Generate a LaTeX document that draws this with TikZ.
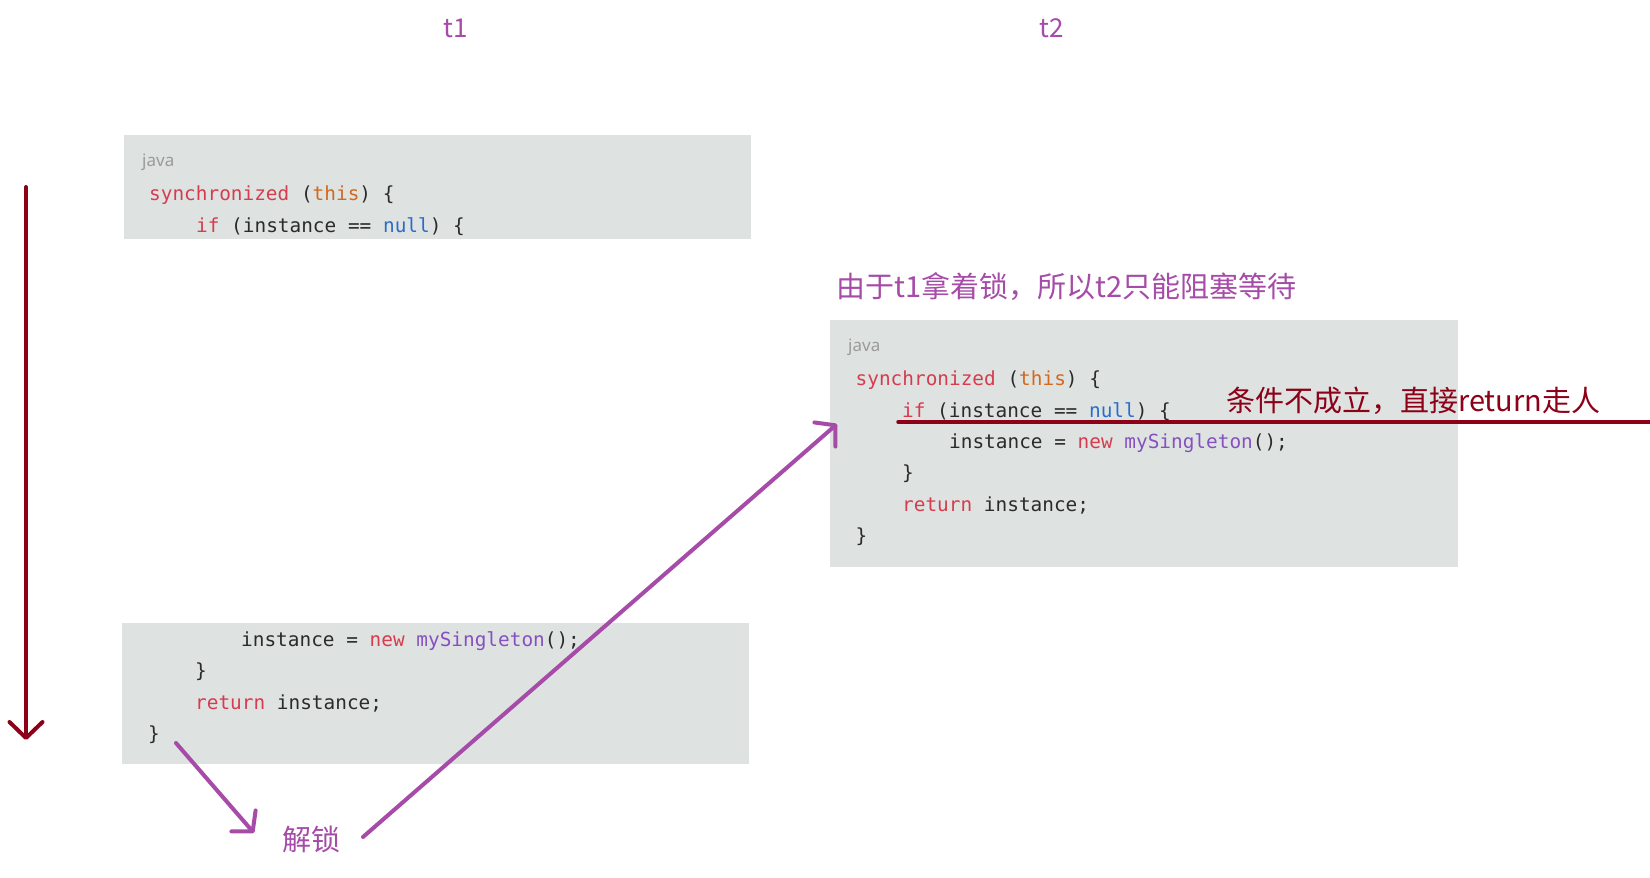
\documentclass[tikz,border=0pt]{standalone}
\usepackage{fontspec}
\setmonofont{DejaVu Sans Mono}
\newfontfamily\cjk{Noto Sans CJK SC}
\newfontfamily\labelfont{Noto Sans}
\usetikzlibrary{arrows.meta}
\definecolor{boxbg}{HTML}{DEE3E2}
\definecolor{kwred}{HTML}{D63C4E}
\definecolor{kworange}{HTML}{D2691E}
\definecolor{kwblue}{HTML}{2A6CCB}
\definecolor{fnpurple}{HTML}{8650C0}
\definecolor{codetext}{HTML}{2B2B2B}
\definecolor{lblgray}{HTML}{9A9A9A}
\definecolor{annpurple}{HTML}{A64BA8}
\definecolor{darkred}{HTML}{8C0018}
\newcommand{\kwd}[1]{\textcolor{kwred}{#1}}
\newcommand{\kwthis}[1]{\textcolor{kworange}{#1}}
\newcommand{\kwnull}[1]{\textcolor{kwblue}{#1}}
\newcommand{\kwfn}[1]{\textcolor{fnpurple}{#1}}
\tikzset{
  codebox/.style={fill=boxbg, draw=none, inner sep=0pt, anchor=north west},
  codeline/.style={anchor=base west, inner sep=0pt, font=\ttfamily\fontsize{19.4}{23}\selectfont, text=codetext},
  langlabel/.style={anchor=base west, inner sep=0pt, font=\labelfont\fontsize{17}{20}\selectfont, text=lblgray},
  anntext/.style={inner sep=0pt, font=\cjk\fontsize{29}{33}\selectfont},
  threadlabel/.style={inner sep=0pt, font=\cjk\fontsize{26}{30}\selectfont, text=annpurple},
  purplearrow/.style={draw=annpurple, line width=4pt, line cap=round, line join=round, -{Straight Barb[length=14pt,width=32pt,line cap=round,line join=round]}},
  redarrow/.style={draw=darkred, line width=4pt, line cap=round, line join=round, -{Straight Barb[length=16pt,width=33pt,line cap=round,line join=round]}},
  strike/.style={draw=darkred, line width=3.5pt, line cap=round}
}
\begin{document}
\begin{tikzpicture}[x=1pt,y=-1pt]
\useasboundingbox (0,0) rectangle (1650,878);
\fill[white] (0,0) rectangle (1650,878);

% thread labels
\node[threadlabel] (t1) at (456,28) {t1};
\node[threadlabel] (t2) at (1052,28) {t2};

% box 1
\node[codebox, minimum width=627pt, minimum height=104pt] (b1) at (124,135) {};
\node[langlabel] (b1j) at (142,166) {java};
\node[codeline] (b1l1) at (149,200) {\kwd{synchronized} (\kwthis{this}) \{};
\node[codeline] (b1l2) at (196,232) {\kwd{if} (instance == \kwnull{null}) \{};

% box 2
\node[codebox, minimum width=628pt, minimum height=247pt] (b2) at (830,320) {};
\node[langlabel] (b2j) at (848,351) {java};
\node[codeline] (b2l1) at (855.5,385) {\kwd{synchronized} (\kwthis{this}) \{};
\node[codeline] (b2l2) at (902,417) {\kwd{if} (instance == \kwnull{null}) \{};
\node[codeline] (b2l3) at (949,448) {instance = \kwd{new} \kwfn{mySingleton}();};
\node[codeline] (b2l4) at (902,479) {\}};
\node[codeline] (b2l5) at (902,511) {\kwd{return} instance;};
\node[codeline] (b2l6) at (855.5,542) {\}};

% box 3
\node[codebox, minimum width=627pt, minimum height=141pt] (b3) at (122,623) {};
\node[codeline] (b3l1) at (241,646) {instance = \kwd{new} \kwfn{mySingleton}();};
\node[codeline] (b3l2) at (195,677) {\}};
\node[codeline] (b3l3) at (195,709) {\kwd{return} instance;};
\node[codeline] (b3l4) at (148,740) {\}};

% annotations
\node[anntext, text=annpurple, anchor=west] (wait) at (836,287) {由于t1拿着锁，所以t2只能阻塞等待};
\node[anntext, text=darkred, anchor=west] (ret) at (1226,401) {条件不成立，直接return走人};
\node[anntext, text=annpurple] (unlock) at (311,839) {解锁};

% time arrow
\coordinate (ts) at (26,187);
\coordinate (te) at (26,740);
\draw[redarrow] (ts) -- (te);

% strike line
\coordinate (ss) at (898,422);
\coordinate (se) at (1652,422);
\draw[strike] (ss) -- (se);

% purple arrows
\coordinate (a1s) at (176,743);
\coordinate (a1e) at (254,833);
\draw[purplearrow] (a1s) -- (a1e);
\coordinate (a2s) at (363,837);
\coordinate (a2e) at (837,424);
\draw[purplearrow] (a2s) -- (a2e);
\end{tikzpicture}
\end{document}
